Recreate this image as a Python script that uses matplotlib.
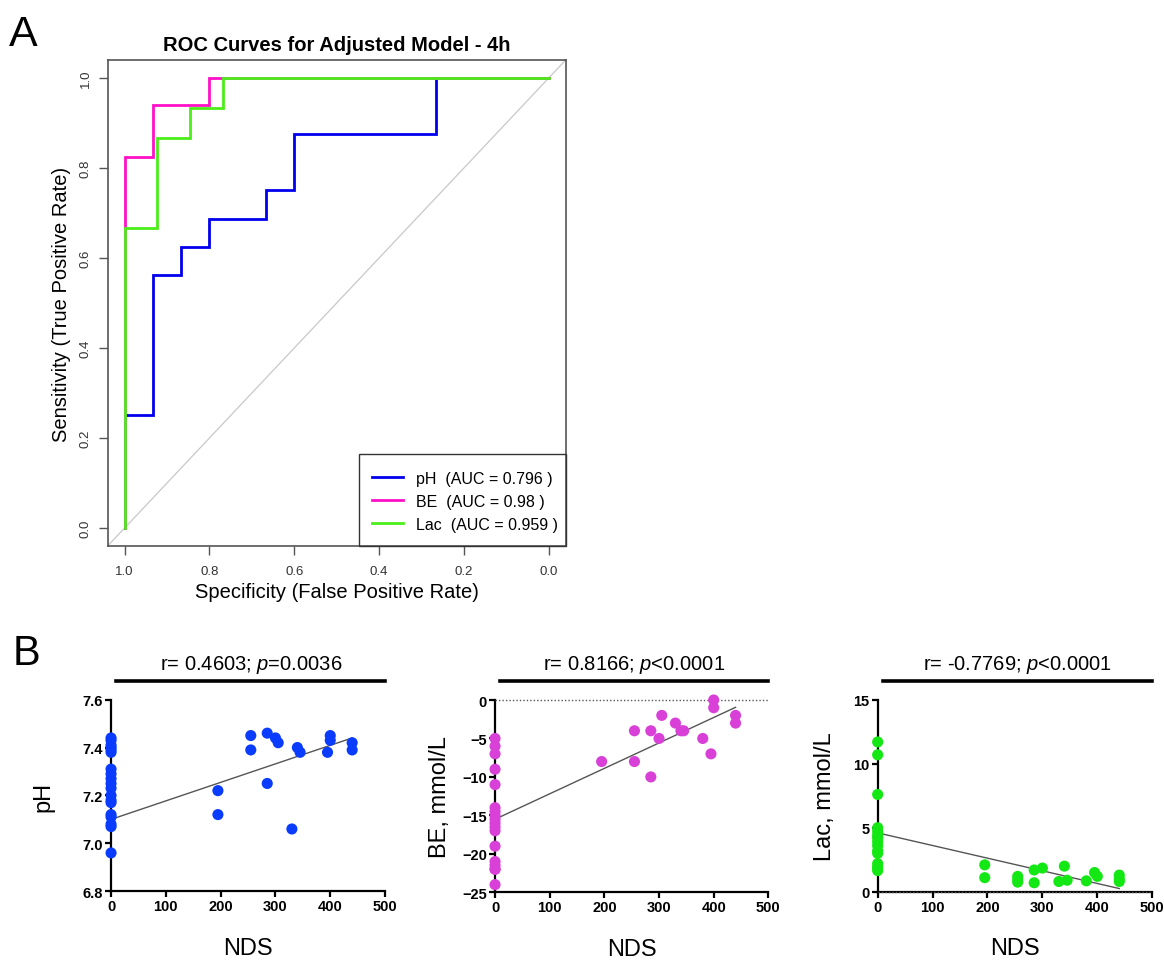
import numpy as np
import matplotlib
matplotlib.use("Agg")
import matplotlib.pyplot as plt
from matplotlib.patches import Rectangle

plt.rcParams['font.family'] = ['Liberation Sans', 'DejaVu Sans']
plt.rcParams['mathtext.fontset'] = 'custom'
plt.rcParams['mathtext.rm'] = 'Liberation Sans'
plt.rcParams['mathtext.it'] = 'Liberation Sans:italic'

# ---- panel A: ROC step curves (specificity, sensitivity)
ph_spec = [1.0, 1.0, 0.933, 0.933, 0.867, 0.867, 0.8, 0.8, 0.667, 0.667, 0.6, 0.6, 0.267, 0.267, 0.0]
ph_sens = [0.0, 0.25, 0.25, 0.5625, 0.5625, 0.625, 0.625, 0.6875, 0.6875, 0.75, 0.75, 0.875, 0.875, 1.0, 1.0]
be_spec = [1.0, 1.0, 0.933, 0.933, 0.8, 0.8, 0.0]
be_sens = [0.0, 0.824, 0.824, 0.941, 0.941, 1.0, 1.0]
lac_spec = [1.0, 1.0, 0.923, 0.923, 0.846, 0.846, 0.769, 0.769, 0.0]
lac_sens = [0.0, 0.667, 0.667, 0.867, 0.867, 0.933, 0.933, 1.0, 1.0]
roc_labels = ["pH  (AUC = 0.796 )", "BE  (AUC = 0.98 )", "Lac  (AUC = 0.959 )"]
roc_colors = ["#0000EE", "#FF10C8", "#4CEE1A"]

# ---- panel B: NDS vs blood gas values
ph_nds = [0] * 19 + [195, 195, 255, 255, 285, 285, 300, 305, 330, 340, 345, 395, 400, 400, 440, 440]
ph_val = [7.44, 7.43, 7.41, 7.40, 7.39, 7.38, 7.31, 7.29, 7.27, 7.25, 7.23, 7.20, 7.18, 7.17,
          7.12, 7.11, 7.08, 7.07, 6.96,
          7.22, 7.12, 7.45, 7.39, 7.46, 7.25, 7.44, 7.42, 7.06, 7.40, 7.38, 7.38, 7.45, 7.43, 7.42, 7.39]
ph_fit = ([0, 440], [7.10, 7.44])

be_nds = [0] * 18 + [195, 255, 255, 285, 285, 300, 305, 330, 340, 345, 380, 395, 400, 400, 440, 440]
be_val = [-5, -6, -7, -9, -11, -14, -14.5, -15, -15.5, -16, -16.5, -17, -19, -21, -21.5, -22, -22, -24,
          -8, -4, -8, -4, -10, -5, -2, -3, -4, -4, -5, -7, 0, -1, -2, -3]
be_fit = ([0, 440], [-15.5, -0.95])

lac_nds = [0] * 15 + [195, 195, 255, 255, 255, 285, 285, 300, 330, 340, 345, 380, 395, 400, 440, 440, 440]
lac_val = [11.7, 10.7, 7.6, 5.0, 4.7, 4.4, 4.2, 3.9, 3.6, 3.2, 3.0, 2.2, 1.95, 1.8, 1.65,
           2.1, 1.1, 1.2, 0.95, 0.75, 1.7, 0.7, 1.85, 0.8, 2.0, 0.9, 0.85, 1.5, 1.2, 1.3, 1.0, 0.8]
lac_fit = ([0, 440], [4.6, 0.25])

fig = plt.figure(figsize=(11.64, 9.62), dpi=100)

# ---------------- A
ax = fig.add_axes([0.0925, 0.4314, 0.3935, 0.5052])
ax.plot([1.04, -0.04], [-0.04, 1.04], color="#c8c8c8", lw=0.9)
for sx, sy, c, lab in zip([ph_spec, be_spec, lac_spec], [ph_sens, be_sens, lac_sens], roc_colors, roc_labels):
    ax.plot(sx, sy, color=c, lw=2.0, label=lab, solid_joinstyle='miter')
ax.set_xlim(1.04, -0.04)
ax.set_ylim(-0.04, 1.04)
ticks = [0.0, 0.2, 0.4, 0.6, 0.8, 1.0]
ax.set_xticks(ticks)
ax.set_yticks(ticks)
ax.set_xticklabels([f"{t:.1f}" for t in ticks])
ax.set_yticklabels([f"{t:.1f}" for t in ticks], rotation=90, va='center')
ax.tick_params(length=6.5, width=1, color="#555555", labelcolor="#333333", labelsize=9.5)
ax.tick_params(axis='x', pad=7)
ax.tick_params(axis='y', pad=5)
for s in ax.spines.values():
    s.set_color("#555555")
    s.set_linewidth(1.2)
ax.set_title("ROC Curves for Adjusted Model - 4h", fontsize=14.5, fontweight='bold', pad=7)
ax.set_xlabel("Specificity (False Positive Rate)", fontsize=14.5, labelpad=4)
ax.set_ylabel("Sensitivity (True Positive Rate)", fontsize=14.5, labelpad=6)
ax.add_patch(Rectangle((0.548, 0.0), 0.452, 0.189, transform=ax.transAxes, fill=False,
                       edgecolor="#333333", lw=1.0, zorder=5, clip_on=False))
ax.legend(loc='center', bbox_to_anchor=(0.781, 0.0916), frameon=False, fontsize=11.5,
          handlelength=1.9, handletextpad=0.85, borderpad=0, labelspacing=0.5)
fig.text(0.0077, 0.952, "A", fontsize=31, va='baseline')


# ---------------- B
def scatter_panel(rect, x, y, fit, color, ylim, yticks, ylabel, label_x, note, zero_line):
    bx = fig.add_axes(rect)
    if zero_line:
        bx.plot([0, 500], [0, 0], ls=(0, (1, 1.5)), color="#555555", lw=1.0, zorder=3, clip_on=False)
    bx.plot(fit[0], fit[1], color="#555555", lw=1.0, zorder=2)
    bx.scatter(x, y, s=64, color=color, edgecolors='none', zorder=4, clip_on=False)
    bx.set_xlim(0, 500)
    bx.set_ylim(*ylim)
    bx.set_xticks([0, 100, 200, 300, 400, 500])
    bx.set_yticks(yticks)
    bx.spines['top'].set_visible(False)
    bx.spines['right'].set_visible(False)
    for s in ['left', 'bottom']:
        bx.spines[s].set_linewidth(1.6)
    bx.tick_params(length=4.3, width=1.6, labelsize=10.5, pad=1.5)
    for t in bx.get_xticklabels() + bx.get_yticklabels():
        t.set_fontweight('bold')
    bx.set_xlabel("NDS", fontsize=17, labelpad=17)
    bx.set_ylabel(ylabel, fontsize=17)
    bx.yaxis.set_label_coords(label_x, 0.5)
    bx.yaxis.label.set_verticalalignment('center')
    x0, y0, w, h = rect
    top = y0 + h
    fig.add_artist(plt.Line2D([x0 + 0.019 * w, x0 + w], [top + 0.0193, top + 0.0193],
                              color='black', lw=2.6, transform=fig.transFigure))
    fig.text(x0 + 0.51 * w, top + 0.037, note, fontsize=14.5, ha='center', va='center')
    return bx


scatter_panel([0.0954, 0.0725, 0.2354, 0.1992], ph_nds, ph_val, ph_fit, "#0A3CFF",
              (6.8, 7.6), [6.8, 7.0, 7.2, 7.4, 7.6], "pH", -0.245,
              r"r= 0.4603; $p$=0.0036", False)
scatter_panel([0.4253, 0.0714, 0.2348, 0.1999], be_nds, be_val, be_fit, "#D840D8",
              (-25, 0), [-25, -20, -15, -10, -5, 0], "BE, mmol/L", -0.20,
              r"r= 0.8166; $p$<0.0001", True)
scatter_panel([0.7540, 0.0720, 0.2359, 0.1996], lac_nds, lac_val, lac_fit, "#14E814",
              (0, 15), [0, 5, 10, 15], "Lac, mmol/L", -0.19,
              r"r= -0.7769; $p$<0.0001", True)
fig.text(0.011, 0.309, "B", fontsize=30, va='baseline')

fig.savefig("out.png", dpi=100)
